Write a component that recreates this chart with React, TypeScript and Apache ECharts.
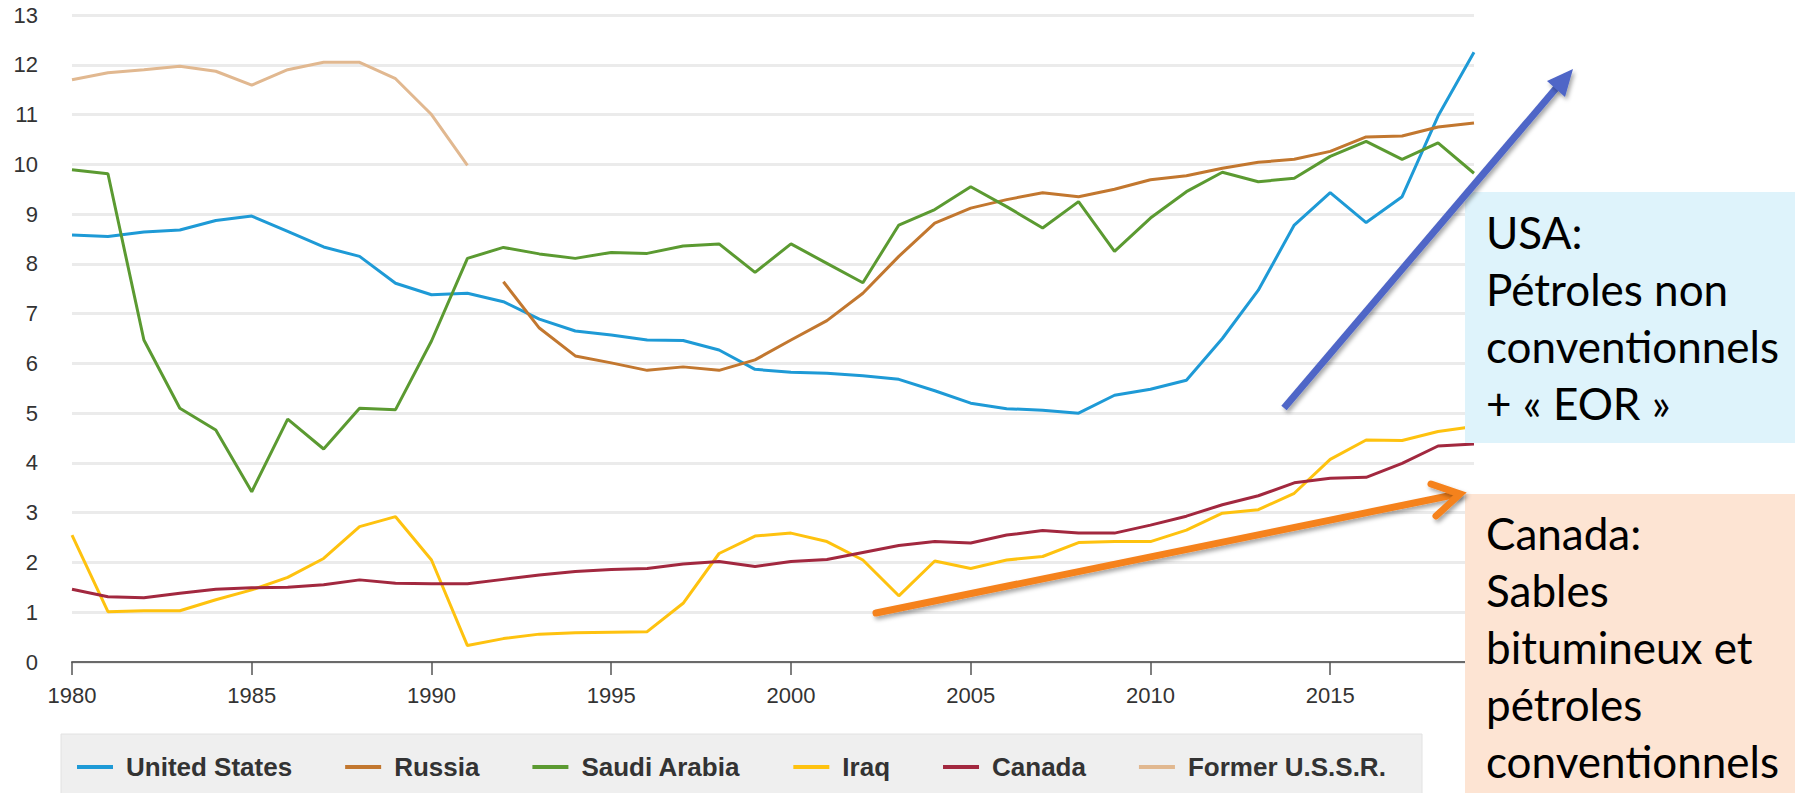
import React, { useEffect, useRef } from "react";
import * as echarts from "echarts";

const years = [
  "1980", "1981", "1982", "1983", "1984", "1985", "1986", "1987", "1988", "1989",
  "1990", "1991", "1992", "1993", "1994", "1995", "1996", "1997", "1998", "1999",
  "2000", "2001", "2002", "2003", "2004", "2005", "2006", "2007", "2008", "2009",
  "2010", "2011", "2012", "2013", "2014", "2015", "2016", "2017", "2018", "2019",
];

const unitedStates = [
  8.58, 8.55, 8.64, 8.68, 8.87, 8.96, 8.65, 8.34, 8.15, 7.61,
  7.38, 7.41, 7.24, 6.89, 6.65, 6.57, 6.47, 6.46, 6.27, 5.88,
  5.82, 5.8, 5.75, 5.68, 5.45, 5.2, 5.09, 5.06, 5.0, 5.36,
  5.48, 5.66, 6.5, 7.47, 8.78, 9.43, 8.83, 9.35, 10.97, 12.25,
];

const russia = [
  null, null, null, null, null, null, null, null, null, null,
  null, null, 7.64, 6.71, 6.15, 6.01, 5.86, 5.93, 5.86, 6.07,
  6.47, 6.86, 7.41, 8.15, 8.82, 9.12, 9.29, 9.43, 9.35, 9.5,
  9.69, 9.77, 9.92, 10.04, 10.1, 10.26, 10.55, 10.57, 10.75, 10.83,
];

const saudiArabia = [
  9.89, 9.81, 6.47, 5.1, 4.66, 3.42, 4.88, 4.28, 5.1, 5.07,
  6.45, 8.11, 8.33, 8.2, 8.11, 8.23, 8.21, 8.36, 8.4, 7.83,
  8.4, 8.01, 7.62, 8.78, 9.09, 9.55, 9.15, 8.72, 9.25, 8.25,
  8.92, 9.45, 9.84, 9.65, 9.72, 10.16, 10.46, 10.1, 10.43, 9.82,
];

const iraq = [
  2.55, 1.01, 1.03, 1.03, 1.25, 1.45, 1.7, 2.08, 2.72, 2.92,
  2.05, 0.33, 0.47, 0.56, 0.59, 0.6, 0.61, 1.18, 2.18, 2.53,
  2.59, 2.42, 2.05, 1.33, 2.03, 1.88, 2.05, 2.12, 2.4, 2.42,
  2.42, 2.65, 2.99, 3.06, 3.39, 4.07, 4.46, 4.45, 4.63, 4.73,
];

const canada = [
  1.46, 1.31, 1.29, 1.38, 1.46, 1.49, 1.5, 1.55, 1.65, 1.58,
  1.57, 1.57, 1.66, 1.75, 1.82, 1.86, 1.88, 1.97, 2.02, 1.92,
  2.02, 2.06, 2.2, 2.34, 2.42, 2.39, 2.55, 2.64, 2.59, 2.59,
  2.75, 2.93, 3.16, 3.34, 3.6, 3.69, 3.71, 3.99, 4.34, 4.38,
];

const formerUSSR = [
  11.7, 11.84, 11.9, 11.97, 11.87, 11.59, 11.9, 12.05, 12.05, 11.72,
  11.0, 9.98, null, null, null, null, null, null, null, null,
  null, null, null, null, null, null, null, null, null, null,
  null, null, null, null, null, null, null, null, null, null,
];

const seriesNames = ["United States", "Russia", "Saudi Arabia", "Iraq", "Canada", "Former U.S.S.R."];
const seriesColors = ["#1e9ad6", "#c2772f", "#5b9a31", "#fec20f", "#a2283f", "#e1b890"];
const seriesData = [unitedStates, russia, saudiArabia, iraq, canada, formerUSSR];

const usaNote = "USA:\nPétroles non\nconventionnels\n+ « EOR »";
const canadaNote = "Canada:\nSables\nbitumineux et\npétroles\nconventionnels";

export default function App() {
  const ref = useRef<HTMLDivElement>(null);

  useEffect(() => {
    if (!ref.current) return;
    const chart = echarts.init(ref.current, undefined, { renderer: "svg" });
    const shadow = {
      shadowBlur: 4,
      shadowColor: "rgba(0,0,0,0.35)",
      shadowOffsetX: 2,
      shadowOffsetY: 3,
    };
    chart.setOption({
      animation: false,
      backgroundColor: "#ffffff",
      grid: { left: 72, right: 321, top: 15, bottom: 131, containLabel: false },
      xAxis: {
        type: "category",
        data: years,
        boundaryGap: false,
        axisLine: { show: true, lineStyle: { color: "#6a6a6a", width: 2 } },
        axisTick: {
          show: true,
          length: 13,
          interval: (i: number) => i % 5 === 0,
          lineStyle: { color: "#555", width: 1.5 },
        },
        axisLabel: {
          interval: (i: number) => i % 5 === 0,
          margin: 22,
          fontSize: 22,
          color: "#333",
          fontFamily: "Liberation Sans",
        },
        splitLine: { show: false },
      },
      yAxis: {
        type: "value",
        min: 0,
        max: 13,
        interval: 1,
        axisLine: { show: false },
        axisTick: { show: false },
        axisLabel: { margin: 34, fontSize: 22, color: "#333", fontFamily: "Liberation Sans" },
        splitLine: { show: true, lineStyle: { color: "#ebebeb", width: 3 } },
      },
      legend: {
        data: seriesNames,
        left: 77,
        top: 754,
        icon: "rect",
        itemWidth: 36,
        itemHeight: 4,
        itemGap: 53,
        padding: 0,
        textStyle: {
          fontSize: 26,
          fontWeight: "bold",
          color: "#333",
          fontFamily: "Liberation Sans",
          padding: [0, 0, 0, 8],
        },
      },
      series: seriesNames.map((name, i) => ({
        name,
        type: "line",
        data: seriesData[i],
        showSymbol: false,
        connectNulls: false,
        color: seriesColors[i],
        lineStyle: { width: 3, color: seriesColors[i] },
      })),
      graphic: [
        {
          type: "rect",
          z: -10,
          silent: true,
          shape: { x: 61, y: 734, width: 1361, height: 62 },
          style: { fill: "#efefef", stroke: "#e2e2e2", lineWidth: 1 },
        },
        {
          type: "rect",
          z: 100,
          shape: { x: 1465, y: 192, width: 330, height: 251 },
          style: { fill: "#def3fb" },
        },
        {
          type: "text",
          z: 101,
          x: 1486,
          y: 203,
          style: {
            text: usaNote,
            fontSize: 44,
            fontFamily: "Lato",
            fill: "#000",
            lineHeight: 57,
            verticalAlign: "top",
          },
        },
        {
          type: "rect",
          z: 100,
          shape: { x: 1465, y: 494, width: 330, height: 299 },
          style: { fill: "#fde4d3" },
        },
        {
          type: "text",
          z: 101,
          x: 1486,
          y: 504,
          style: {
            text: canadaNote,
            fontSize: 44,
            fontFamily: "Lato",
            fill: "#000",
            lineHeight: 57,
            verticalAlign: "top",
          },
        },
        {
          type: "line",
          z: 102,
          shape: { x1: 1284, y1: 408, x2: 1558, y2: 86 },
          style: { stroke: "#4f66c7", lineWidth: 7, ...shadow },
        },
        {
          type: "polygon",
          z: 102,
          shape: { points: [[1573, 69], [1565, 97], [1547, 81]] },
          style: { fill: "#4f66c7", ...shadow },
        },
        {
          type: "line",
          z: 102,
          shape: { x1: 876, y1: 613, x2: 1458, y2: 494 },
          style: { stroke: "#f5821f", lineWidth: 7, lineCap: "round", ...shadow },
        },
        {
          type: "polyline",
          z: 102,
          shape: { points: [[1431, 484], [1460, 494], [1436, 516]] },
          style: { stroke: "#f5821f", lineWidth: 7, lineCap: "round", lineJoin: "miter", fill: "none", ...shadow },
        },
      ],
    });
    return () => chart.dispose();
  }, []);

  return (
    <div
      ref={ref}
      style={{ position: "fixed", left: 0, top: 0, width: 1795, height: 793, background: "#fff" }}
    />
  );
}
